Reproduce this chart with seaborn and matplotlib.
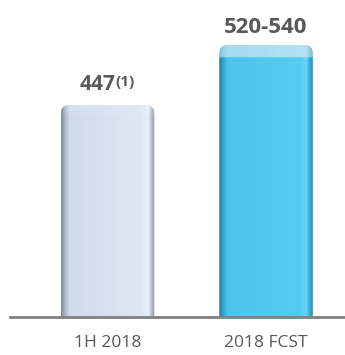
import numpy as np
import pandas as pd
import matplotlib
matplotlib.use("Agg")
import matplotlib.pyplot as plt
from matplotlib.patches import FancyBboxPatch
from matplotlib.colors import to_rgb
import seaborn as sns

# Data
categories = ["1H 2018", "2018 FCST"]
values = [447, 540]          # bar heights (upper end for the forecast range)
range_low = [None, 520]      # lower end of the forecast range
value_labels = ["447", "520-540"]
footnote = ["(1)", None]

sns.set_theme(style="white")
plt.rcParams["font.family"] = ["Open Sans", "DejaVu Sans"]

TEXT = "#595959"

fig = plt.figure(figsize=(3.45, 3.55), dpi=100)
ax = fig.add_axes([10 / 345, 38 / 355, 335 / 345, 317 / 355])

df = pd.DataFrame({"cat": categories, "val": values})
sns.barplot(data=df, x="cat", y="val", ax=ax, width=0.59,
            color="#d5e1ef", saturation=1)

ax.set_xlim(-0.615, 1.498)
ax.set_ylim(118.6, 609.7)

for s in ["top", "right", "left"]:
    ax.spines[s].set_visible(False)
ax.spines["bottom"].set_color("#808080")
ax.spines["bottom"].set_linewidth(2.0)
ax.set_yticks([])
ax.set_xlabel("")
ax.set_ylabel("")
ax.tick_params(axis="x", length=0, pad=13, labelsize=12.5, labelcolor=TEXT)
for t in ax.get_xticklabels():
    t.set_fontfamily(["Open Sans", "DejaVu Sans"])

fig.canvas.draw()

# pixels per data unit in x and y
p0 = ax.transData.transform((0, 0))
p1 = ax.transData.transform((1, 1))
px_x = p1[0] - p0[0]
px_y = p1[1] - p0[1]
radius_px = 8
r_x = radius_px / px_x
aspect = px_x / px_y


def profile(stops, n):
    pos = np.array([s[0] for s in stops])
    cols = np.array([to_rgb(s[1]) for s in stops])
    xs = np.linspace(0, 1, n)
    return np.stack([np.interp(xs, pos, cols[:, k]) for k in range(3)], axis=-1)


body_stops = [
    [(0.0, "#7d8996"), (0.04, "#a9b7c6"), (0.09, "#cfdbea"), (0.5, "#d6e2f0"),
     (0.86, "#dde8f4"), (0.93, "#e8f0f9"), (0.97, "#b3bcc6"), (1.0, "#8e98a3")],
    [(0.0, "#1c7d9f"), (0.04, "#2fa4cc"), (0.09, "#4cc4ec"), (0.5, "#50c9ef"),
     (0.86, "#54ccf2"), (0.93, "#66d6f8"), (0.97, "#3aa9cf"), (1.0, "#2a8fb2")],
]
band_stops = [
    None,
    [(0.0, "#79bdd6"), (0.04, "#95d2e8"), (0.09, "#a6dcf0"), (0.5, "#a9def2"),
     (0.93, "#b3e4f6"), (0.97, "#93c9dd"), (1.0, "#80b6ca")],
]

bars = list(ax.patches)
ylo = ax.get_ylim()[0]
for i, bar in enumerate(bars):
    x0 = bar.get_x()
    w = bar.get_width()
    h = bar.get_height()
    bar.set_visible(False)
    shape = FancyBboxPatch((x0, 0), w, h,
                           boxstyle=f"round,pad=0,rounding_size={r_x}",
                           mutation_aspect=aspect,
                           facecolor="none", edgecolor="none",
                           transform=ax.transData)
    ax.add_patch(shape)

    ny, nx = 600, 200
    row = profile(body_stops[i], nx)
    img = np.repeat(row[None, :, :], ny, axis=0)
    ys = np.linspace(ylo, h, ny)
    if range_low[i] is not None:
        band = profile(band_stops[i], nx)
        img[ys > range_low[i]] = band
    else:
        # soft top highlight on the plain bar
        top_fade = np.clip((ys - (h - 12 / px_y)) / (12 / px_y), 0, 1)
        img = img + (1 - img) * (0.15 * top_fade)[:, None, None]
    im = ax.imshow(img, extent=[x0, x0 + w, ylo, h], origin="lower",
                   aspect="auto", interpolation="bilinear", zorder=2)
    im.set_clip_path(shape)

    cx = x0 + w / 2
    if footnote[i]:
        ax.annotate(value_labels[i], xy=(cx, h), xytext=(8, 15),
                    textcoords="offset pixels", ha="right", va="baseline",
                    fontsize=15, fontweight="bold", color=TEXT)
        ax.annotate(footnote[i], xy=(cx, h), xytext=(8, 19),
                    textcoords="offset pixels", ha="left", va="baseline",
                    fontsize=11, fontweight="bold", color=TEXT)
    else:
        ax.annotate(value_labels[i], xy=(cx, h), xytext=(0, 12),
                    textcoords="offset pixels", ha="center", va="baseline",
                    fontsize=16, fontweight="bold", color=TEXT)

ax.set_xlim(-0.615, 1.498)
fig.savefig("out.png", dpi=100)
